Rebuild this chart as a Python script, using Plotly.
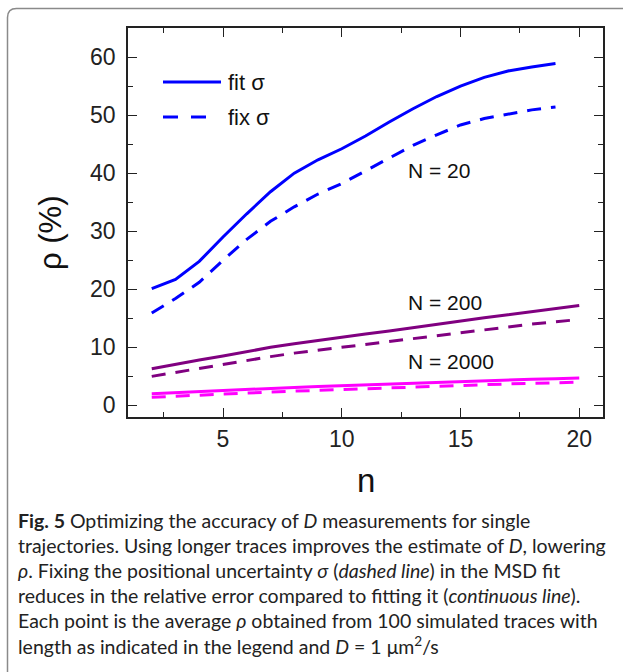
import plotly.graph_objects as go

# Trace length n and relative error rho (%) for each trajectory length N
n_N20 = list(range(2, 20))
n_N200 = list(range(2, 21))
n_N2000 = list(range(2, 21))

rho_fit_N20 = [20.1, 21.7, 24.8, 29.0, 33.0, 36.8, 40.0, 42.3, 44.2, 46.4,
               48.8, 51.1, 53.2, 55.0, 56.5, 57.6, 58.3, 58.9]
rho_fix_N20 = [15.9, 18.4, 21.2, 25.0, 28.6, 31.7, 34.2, 36.4, 38.2, 40.4,
               42.6, 44.8, 46.6, 48.3, 49.4, 50.2, 50.9, 51.4]
rho_fit_N200 = [6.3, 7.1, 7.8, 8.5, 9.3, 10.0, 10.6, 11.2, 11.8, 12.3,
                12.8, 13.4, 13.9, 14.5, 15.1, 15.6, 16.1, 16.6, 17.2]
rho_fix_N200 = [5.0, 5.7, 6.4, 7.1, 7.8, 8.4, 9.0, 9.5, 10.0, 10.5,
                11.0, 11.6, 12.1, 12.6, 13.1, 13.6, 14.0, 14.4, 14.8]
rho_fit_N2000 = [2.0, 2.2, 2.4, 2.6, 2.8, 2.95, 3.1, 3.25, 3.4, 3.55,
                 3.7, 3.85, 4.0, 4.1, 4.25, 4.4, 4.5, 4.6, 4.7]
rho_fix_N2000 = [1.4, 1.6, 1.8, 1.95, 2.1, 2.3, 2.45, 2.6, 2.75, 2.9,
                 3.05, 3.2, 3.3, 3.45, 3.55, 3.7, 3.8, 3.9, 4.0]

series_labels = ["N = 20", "N = 200", "N = 2000"]
label_pos = [(12.7, 40.5), (12.7, 17.8), (12.7, 7.5)]
legend_labels = ["fit σ", "fix σ"]
x_ticks = [5, 10, 15, 20]
y_ticks = [0, 10, 20, 30, 40, 50, 60]

caption_lines = [
    "<b>Fig. 5</b> Optimizing the accuracy of <i>D</i> measurements for single",
    "trajectories. Using longer traces improves the estimate of <i>D</i>, lowering",
    "<i>ρ</i>. Fixing the positional uncertainty <i>σ</i> (<i>dashed line</i>) in the MSD fit",
    "reduces in the relative error compared to fitting it (<i>continuous line</i>).",
    "Each point is the average <i>ρ</i> obtained from 100 simulated traces with",
    "length as indicated in the legend and <i>D</i> = 1 μm<sup>2</sup>/s",
]

W, H = 623, 672
L, R, T, B = 128, 603, 28, 417


def px_x(x):
    return (x - L) / (R - L)


def px_y(y):
    return (B - y) / (B - T)


BLUE, PURPLE, MAGENTA = "#0000FF", "#800080", "#FF00FF"
DASH = "14px,10px"
LW = 3
FONT = "Liberation Sans, Arial"

fig = go.Figure()
for xs, ys, col, dash in [
    (n_N20, rho_fit_N20, BLUE, "solid"),
    (n_N20, rho_fix_N20, BLUE, DASH),
    (n_N200, rho_fit_N200, PURPLE, "solid"),
    (n_N200, rho_fix_N200, PURPLE, DASH),
    (n_N2000, rho_fix_N2000, MAGENTA, DASH),
    (n_N2000, rho_fit_N2000, MAGENTA, "solid"),
]:
    fig.add_trace(go.Scatter(x=xs, y=ys, mode="lines",
                             line=dict(color=col, width=LW, dash=dash),
                             showlegend=False, hoverinfo="skip"))

annotations = []
shapes = []

# Series labels
for txt, (lx, ly) in zip(series_labels, label_pos):
    annotations.append(dict(x=lx, y=ly, xref="x", yref="y", text=txt,
                            showarrow=False, xanchor="left", yanchor="middle",
                            font=dict(family=FONT, size=21, color="#111")))

# Legend samples
leg_y = [82, 117]
shapes.append(dict(type="line", xref="paper", yref="paper",
                   x0=px_x(163), x1=px_x(221), y0=px_y(leg_y[0]), y1=px_y(leg_y[0]),
                   line=dict(color=BLUE, width=LW)))
for x0 in (163, 191):
    shapes.append(dict(type="line", xref="paper", yref="paper",
                       x0=px_x(x0), x1=px_x(x0 + 15), y0=px_y(leg_y[1]), y1=px_y(leg_y[1]),
                       line=dict(color=BLUE, width=LW)))
for txt, yy in zip(legend_labels, leg_y):
    annotations.append(dict(x=px_x(226), y=px_y(yy), xref="paper", yref="paper",
                            text=txt, showarrow=False, xanchor="left", yanchor="middle",
                            font=dict(family=FONT, size=22, color="#111")))

# Axis titles
annotations.append(dict(x=px_x(50), y=px_y(233), xref="paper", yref="paper",
                        text="ρ (%)", textangle=-90, showarrow=False,
                        xanchor="center", yanchor="middle",
                        font=dict(family=FONT, size=31, color="#111")))
annotations.append(dict(x=px_x(366), y=px_y(480), xref="paper", yref="paper",
                        text="n", showarrow=False, xanchor="center", yanchor="middle",
                        font=dict(family=FONT, size=33, color="#111")))

# Caption
for i, line in enumerate(caption_lines):
    annotations.append(dict(x=px_x(16), y=px_y(520 + i * 25), xref="paper", yref="paper",
                            text=line, showarrow=False, xanchor="left", yanchor="middle",
                            font=dict(family="Lato", size=19.5, color="#222")))

# Rounded frame around figure and caption
x0, y0, r = 7.5, 8.5, 9
fx0, fy0 = px_x(x0), px_y(y0)
path = (f"M {fx0},{px_y(H + 20)} L {fx0},{px_y(y0 + r)} "
        f"Q {fx0},{fy0} {px_x(x0 + r)},{fy0} L {px_x(W + 20)},{fy0}")
shapes.append(dict(type="path", xref="paper", yref="paper", path=path,
                   line=dict(color="#8a8a8a", width=1.5)))

axis_common = dict(showline=True, linecolor="#222", linewidth=1.5, mirror="ticks",
                   ticks="inside", ticklen=9, tickwidth=1.3, tickcolor="#222",
                   showgrid=False, zeroline=False, automargin=False,
                   tickfont=dict(family=FONT, size=23, color="#222"))

fig.update_layout(
    template="none",
    width=W, height=H,
    margin=dict(l=L, r=W - R, t=T, b=H - B, pad=0, autoexpand=False),
    paper_bgcolor="white", plot_bgcolor="white",
    xaxis=dict(range=[1, 21], tickvals=x_ticks,
               minor=dict(ticks="inside", ticklen=5, dtick=2.5, tick0=0,
                          tickcolor="#222", tickwidth=1.3),
               ticklabelstandoff=1, **axis_common),
    yaxis=dict(range=[-2, 65], tickvals=y_ticks,
               minor=dict(ticks="inside", ticklen=5, dtick=5, tick0=0,
                          tickcolor="#222", tickwidth=1.3),
               ticklabelstandoff=6, **axis_common),
    annotations=annotations,
    shapes=shapes,
    showlegend=False,
)

fig.write_html("out.html")
